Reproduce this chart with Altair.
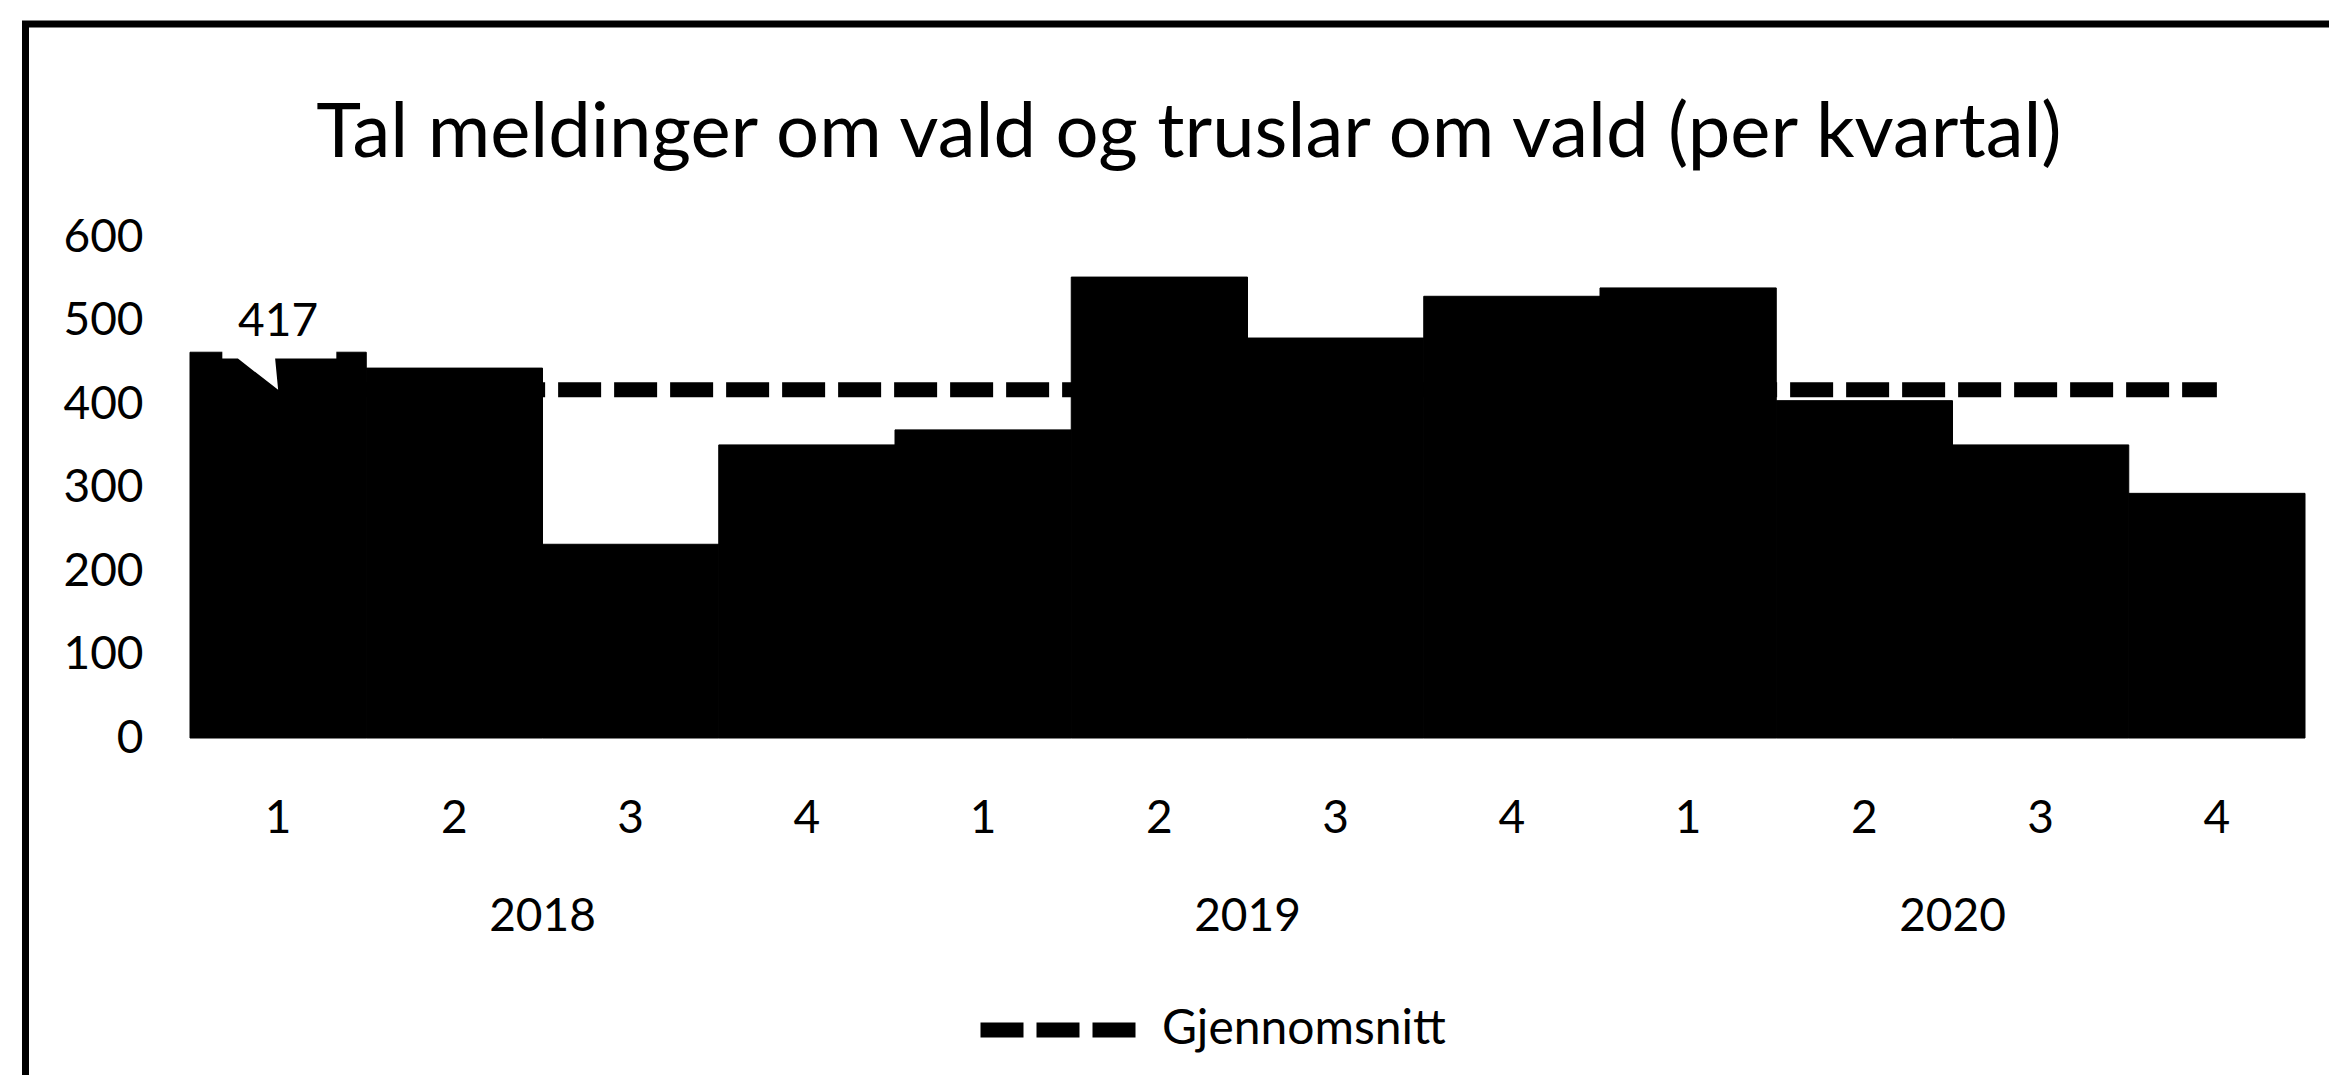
import altair as alt
import pandas as pd

# ---- data ----
years = ["2018", "2018", "2018", "2018", "2019", "2019", "2019", "2019", "2020", "2020", "2020", "2020"]
quarters = ["1", "2", "3", "4", "1", "2", "3", "4", "1", "2", "3", "4"]
counts = [462, 443, 232, 351, 369, 552, 479, 529, 539, 404, 351, 293]
average = [417] * 12
year_labels = ["2018", "2019", "2020"]
series_name = "Gjennomsnitt"
chart_title = "Tal meldinger om vald og truslar om vald (per kvartal)"
y_ticks = [0, 100, 200, 300, 400, 500, 600]

keys = [f"{y}-{q}" for y, q in zip(years, quarters)]
df = pd.DataFrame({
    "key": keys, "year": years, "quarter": quarters,
    "count": counts, "avg": average, "series": [series_name] * len(keys),
})
year_df = pd.DataFrame({"key": [f"{y}-2" for y in year_labels], "year": year_labels})
callout_df = df.iloc[[0]]
title_df = pd.DataFrame({"title": [chart_title]})

FONT = "Lato"
W, H = 2115, 501

x_scale = alt.Scale(domain=keys, paddingInner=0, paddingOuter=0)
y_scale = alt.Scale(domain=[0, 600])

x_axis = alt.Axis(title=None, labelExpr="split(datum.value, '-')[1]", labelAngle=0,
                  domain=False, ticks=False, tickSize=0, labelPadding=58,
                  labelFont=FONT, labelFontSize=46, labelColor="black", grid=False)
y_axis = alt.Axis(title=None, values=y_ticks, grid=False, domain=False, ticks=False, tickSize=0,
                  labelPadding=47, labelFont=FONT, labelFontSize=46, labelColor="black")

X = alt.X("key:N", scale=x_scale, axis=x_axis, sort=keys)

line = alt.Chart(df).mark_line(strokeWidth=15, strokeDash=[43, 13], strokeCap="butt").encode(
    x=X,
    y=alt.Y("avg:Q", scale=y_scale, axis=y_axis),
    color=alt.Color("series:N", scale=alt.Scale(domain=[series_name], range=["black"]),
                    legend=alt.Legend(title=None, orient="none", legendX=783, legendY=707,
                                      symbolType="stroke", symbolStrokeWidth=15,
                                      symbolDash=[43, 13], symbolSize=24649,
                                      labelFont=FONT, labelFontSize=48, labelColor="black",
                                      labelOffset=17, labelLimit=1000, padding=0)),
)

bars = alt.Chart(df).mark_bar(color="black", stroke="black", strokeWidth=1).encode(
    x=alt.X("key:N", scale=x_scale, sort=keys),
    y=alt.Y("count:Q", scale=y_scale),
)

callout_path = ("M -0.93 -1.67 L 0.97 -1.67 L 0.97 -0.52 L -0.05 -0.52 "
                "L 0 0 L -0.67 -0.52 L -0.93 -0.52 Z")
callout = alt.Chart(callout_df).mark_point(
    shape=callout_path, size=14400, filled=True, fill="white", opacity=1, strokeWidth=0
).encode(
    x=alt.X("key:N", scale=x_scale, sort=keys),
    y=alt.Y("avg:Q", scale=y_scale),
)

callout_text = alt.Chart(callout_df).mark_text(
    font=FONT, fontSize=46, color="black", baseline="middle", dy=-68
).encode(
    x=alt.X("key:N", scale=x_scale, sort=keys),
    y=alt.Y("avg:Q", scale=y_scale),
    text=alt.Text("avg:Q"),
)

year_text = alt.Chart(year_df).mark_text(
    font=FONT, fontSize=46, color="black", baseline="middle"
).encode(
    x=alt.X("key:N", scale=x_scale, sort=keys, bandPosition=1),
    y=alt.value(680),
    text="year:N",
)

title_text = alt.Chart(title_df).mark_text(
    font=FONT, fontSize=76, color="black", baseline="alphabetic", align="center"
).encode(
    x=alt.value(999), y=alt.value(-80), text="title:N"
)

frame_top = alt.Chart(callout_df).mark_rule(color="black", strokeWidth=7).encode(
    x=alt.value(-168), x2=alt.value(2139), y=alt.value(-213)
)
frame_left = alt.Chart(callout_df).mark_rule(color="black", strokeWidth=7).encode(
    x=alt.value(-164.5), y=alt.value(-216), y2=alt.value(838)
)

chart = alt.layer(line, bars, callout, callout_text, year_text, title_text,
                  frame_top, frame_left).properties(
    width=W, height=H,
    background="white",
    autosize=alt.AutoSizeParams(type="none"),
    padding={"left": 182, "top": 229, "right": 24, "bottom": 337},
).configure_view(stroke=None, strokeWidth=0)

chart.save("out.html", embed_options={"renderer": "svg", "actions": False})
